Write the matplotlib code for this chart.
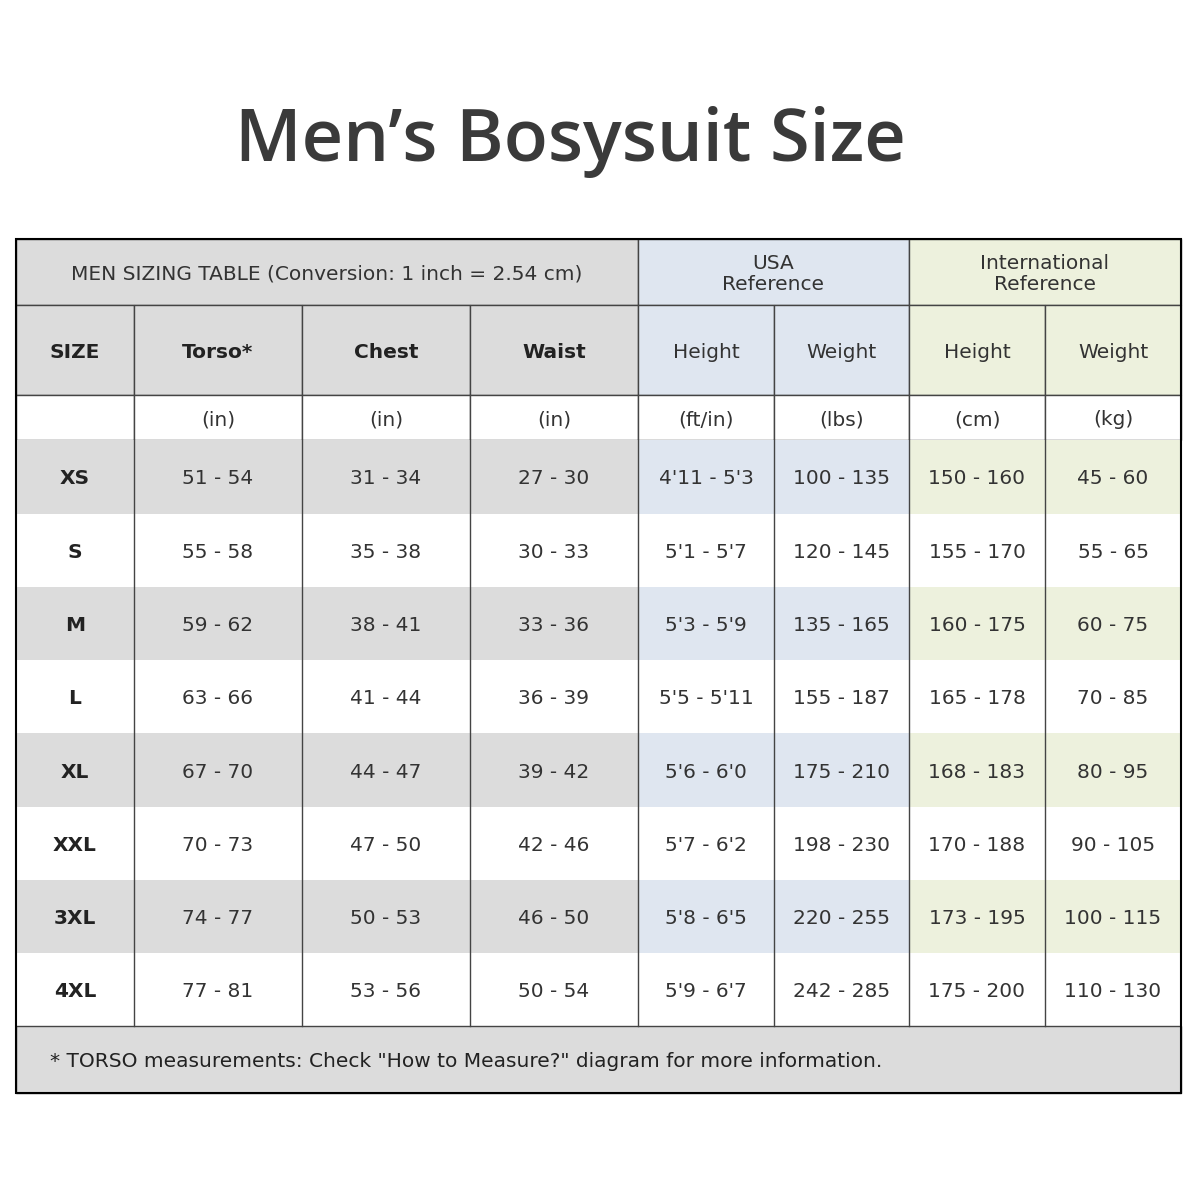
import matplotlib.pyplot as plt
from matplotlib.patches import Rectangle

# table data
sizes = ["XS", "S", "M", "L", "XL", "XXL", "3XL", "4XL"]
torso = ["51 - 54", "55 - 58", "59 - 62", "63 - 66", "67 - 70", "70 - 73", "74 - 77", "77 - 81"]
chest = ["31 - 34", "35 - 38", "38 - 41", "41 - 44", "44 - 47", "47 - 50", "50 - 53", "53 - 56"]
waist = ["27 - 30", "30 - 33", "33 - 36", "36 - 39", "39 - 42", "42 - 46", "46 - 50", "50 - 54"]
usa_height = ["4'11 - 5'3", "5'1 - 5'7", "5'3 - 5'9", "5'5 - 5'11", "5'6 - 6'0", "5'7 - 6'2", "5'8 - 6'5", "5'9 - 6'7"]
usa_weight = ["100 - 135", "120 - 145", "135 - 165", "155 - 187", "175 - 210", "198 - 230", "220 - 255", "242 - 285"]
int_height = ["150 - 160", "155 - 170", "160 - 175", "165 - 178", "168 - 183", "170 - 188", "173 - 195", "175 - 200"]
int_weight = ["45 - 60", "55 - 65", "60 - 75", "70 - 85", "80 - 95", "90 - 105", "100 - 115", "110 - 130"]
headers = ["SIZE", "Torso*", "Chest", "Waist", "Height", "Weight", "Height", "Weight"]
units = ["", "(in)", "(in)", "(in)", "(ft/in)", "(lbs)", "(cm)", "(kg)"]

columns = [sizes, torso, chest, waist, usa_height, usa_weight, int_height, int_weight]

xs = [16, 134, 302, 470, 638, 774, 909, 1045, 1181]
ys = [239, 305, 395, 440, 514, 587, 660, 733, 807, 880, 953, 1026, 1093]

grey = "#dcdcdc"
blue = "#dfe6f0"
green = "#edf1dd"
txt = "#333333"
line = "#444444"
band = [grey] * 4 + [blue] * 2 + [green] * 2
body = ['DejaVu Sans']
fs = 14.5

fig = plt.figure(figsize=(12, 12), dpi=100)
ax = fig.add_axes([0, 0, 1, 1])
ax.set_xlim(0, 1200)
ax.set_ylim(1200, 0)
ax.axis("off")

ax.text(570, 142, "Men\u2019s Bosysuit Size", ha="center", va="center",
        fontsize=52, fontweight="semibold", color="#3a3a3a", family=['Open Sans', 'DejaVu Sans'])

def cell(x0, x1, y0, y1, color, edge=True):
    ax.add_patch(Rectangle((x0, y0), x1 - x0, y1 - y0, facecolor=color,
                           edgecolor=line if edge else "none", linewidth=1))

def label(x, y, s, **kw):
    kw.setdefault("color", txt)
    ax.text(x, y + 2, s, ha="center", va="center", fontsize=fs, family=body, **kw)

# top header
cell(xs[0], xs[4], ys[0], ys[1], grey)
cell(xs[4], xs[6], ys[0], ys[1], blue)
cell(xs[6], xs[8], ys[0], ys[1], green)
mid = (ys[0] + ys[1]) / 2
label((xs[0] + xs[4]) / 2, mid, "MEN SIZING TABLE (Conversion: 1 inch = 2.54 cm)")
label((xs[4] + xs[6]) / 2, mid, "USA\nReference", linespacing=1.1)
label((xs[6] + xs[8]) / 2, mid, "International\nReference", linespacing=1.1)

# column headers and units
for i in range(8):
    cell(xs[i], xs[i + 1], ys[1], ys[2], band[i])
    cx = (xs[i] + xs[i + 1]) / 2
    label(cx, (ys[1] + ys[2]) / 2, headers[i],
          color="#222222" if i < 4 else txt, fontweight="bold" if i < 4 else "normal")
    cell(xs[i], xs[i + 1], ys[2], ys[3], "white")
    label(cx, (ys[2] + ys[3]) / 2, units[i])

# data rows (no horizontal rules between rows)
for r in range(len(sizes)):
    y0, y1 = ys[3 + r], ys[4 + r]
    for i, col in enumerate(columns):
        color = band[i] if r % 2 == 0 else "white"
        cell(xs[i], xs[i + 1], y0, y1, color, edge=False)
        label((xs[i] + xs[i + 1]) / 2, (y0 + y1) / 2, col[r],
              color="#222222" if i == 0 else txt, fontweight="bold" if i == 0 else "normal")
for x in xs[1:-1]:
    ax.plot([x, x], [ys[3], ys[11]], color=line, linewidth=1)

# footer
cell(xs[0], xs[8], ys[11], ys[12], grey)
ax.text(50, (ys[11] + ys[12]) / 2 + 2,
        '* TORSO measurements: Check "How to Measure?" diagram for more information.',
        ha="left", va="center", fontsize=fs, family=body, color="#222222")

# outer border
ax.add_patch(Rectangle((xs[0], ys[0]), xs[8] - xs[0], ys[12] - ys[0], facecolor="none",
                       edgecolor="black", linewidth=1.5))

fig.savefig("out.png", dpi=100, facecolor="white")
